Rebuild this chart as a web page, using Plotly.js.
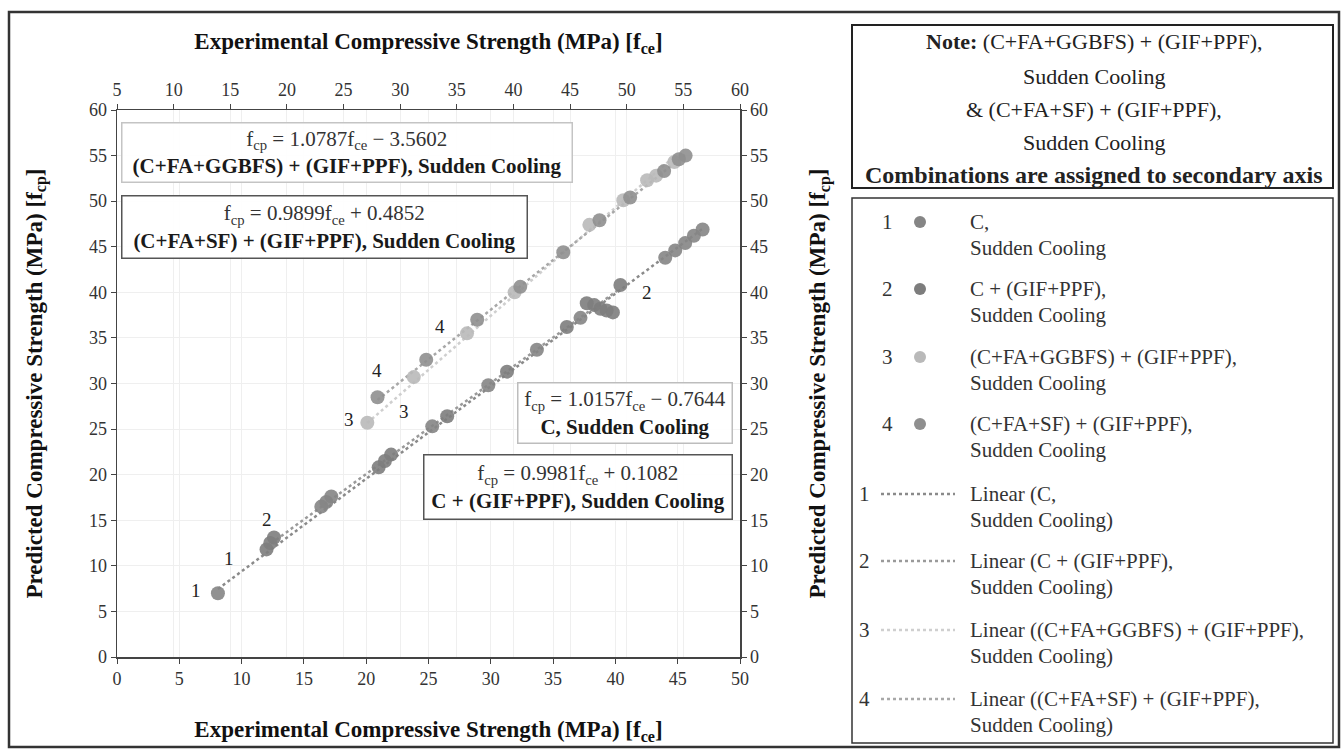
<!DOCTYPE html>
<html>
<head>
<meta charset="utf-8">
<script src="https://cdn.plot.ly/plotly-3.0.1.min.js"></script>
<style>
html,body{margin:0;padding:0;background:#fff;}
#chart{width:1344px;height:752px;}
</style>
</head>
<body>
<div id="chart"></div>
<script>
// ---------- DATA ----------
// Series 1: C, Sudden Cooling (primary axes)
const s1x = [8.1, 16.4, 16.8, 17.2, 25.3, 29.8, 33.7, 37.2, 44.0, 44.8, 45.6, 46.3, 47.0];
const s1y = [7.0, 16.5, 17.0, 17.6, 25.3, 29.8, 33.7, 37.2, 43.8, 44.6, 45.4, 46.2, 46.9];
// Series 2: C + (GIF+PPF), Sudden Cooling (primary axes)
const s2x = [12.0, 12.3, 12.6, 21.0, 21.5, 22.0, 26.5, 31.3, 36.1, 37.7, 38.3, 38.8, 39.3, 39.8, 40.4];
const s2y = [11.8, 12.5, 13.1, 20.8, 21.5, 22.2, 26.4, 31.3, 36.2, 38.8, 38.6, 38.2, 38.0, 37.8, 40.8];
// Series 3: (C+FA+GGBFS) + (GIF+PPF), Sudden Cooling (secondary axes)
const s3x = [27.1, 31.2, 35.9, 40.1, 46.7, 49.7, 51.8, 52.6, 54.2];
const s3y = [25.7, 30.7, 35.5, 40.0, 47.4, 50.1, 52.3, 52.8, 54.3];
// Series 4: (C+FA+SF) + (GIF+PPF), Sudden Cooling (secondary axes)
const s4x = [28.0, 32.3, 36.8, 40.6, 44.4, 47.6, 50.3, 53.3, 54.6, 55.2];
const s4y = [28.5, 32.6, 37.0, 40.6, 44.4, 47.9, 50.4, 53.3, 54.6, 55.0];

// Linear trendline coefficients printed on the chart
const trendSlope     = [1.0157, 0.9981, 1.0787, 0.9899];
const trendIntercept = [-0.7644, 0.1082, -3.5602, 0.4852];
const trendLabels    = ["C, Sudden Cooling", "C + (GIF+PPF), Sudden Cooling",
                        "(C+FA+GGBFS) + (GIF+PPF), Sudden Cooling", "(C+FA+SF) + (GIF+PPF), Sudden Cooling"];

const legendNames = [
  ["C,", "Sudden Cooling"],
  ["C + (GIF+PPF),", "Sudden Cooling"],
  ["(C+FA+GGBFS) + (GIF+PPF),", "Sudden Cooling"],
  ["(C+FA+SF) + (GIF+PPF),", "Sudden Cooling"],
  ["Linear (C,", "Sudden Cooling)"],
  ["Linear (C + (GIF+PPF),", "Sudden Cooling)"],
  ["Linear ((C+FA+GGBFS) + (GIF+PPF),", "Sudden Cooling)"],
  ["Linear ((C+FA+SF) + (GIF+PPF),", "Sudden Cooling)"]
];
const noteLines = ["<b>Note:</b> (C+FA+GGBFS) + (GIF+PPF),", "Sudden Cooling",
                   "& (C+FA+SF) + (GIF+PPF),", "Sudden Cooling",
                   "<b>Combinations are assigned to secondary axis</b>"];

// Point labels (numbers) in primary axis coordinates
const numLabelText = ["1", "1", "2", "3", "4", "3", "4", "2"];
const numLabelX    = [6.3, 9.0, 12.0, 18.6, 20.9, 23.0, 25.9, 42.5];
const numLabelY    = [7.3, 10.8, 15.1, 26.1, 31.4, 26.9, 36.2, 40.0];

// ---------- STYLE ----------
const FONT = "Liberation Serif";
const markerColors = ["#858585", "#7d7d7d", "#b9b9b9", "#8f8f8f"];
const lineColors   = ["#8a8a8a", "#9a9a9a", "#cfcfcf", "#a8a8a8"];

// pixel -> paper helpers (plot area is 117..740 x 110..657)
const L = 117, R = 740, T = 110, B = 657;
const px = v => (v - L) / (R - L);
const py = v => (B - v) / (B - T);

const sx = [s1x, s2x, s3x, s4x];
const sy = [s1y, s2y, s3y, s4y];
const axes = [["x","y"],["x","y"],["x2","y2"],["x2","y2"]];

const traces = [];
for (let i = 0; i < 4; i++) {
  const x0 = Math.min(...sx[i]), x1 = Math.max(...sx[i]);
  traces.push({
    type: "scatter", mode: "lines",
    x: [x0, x1],
    y: [trendSlope[i]*x0 + trendIntercept[i], trendSlope[i]*x1 + trendIntercept[i]],
    xaxis: axes[i][0], yaxis: axes[i][1],
    line: {color: lineColors[i], width: 2.5, dash: "dot"},
    name: "Linear (" + trendLabels[i] + ")", showlegend: false, hoverinfo: "skip"
  });
}
for (let i = 0; i < 4; i++) {
  traces.push({
    type: "scatter", mode: "markers",
    x: sx[i], y: sy[i],
    xaxis: axes[i][0], yaxis: axes[i][1],
    marker: {color: markerColors[i], size: 14, opacity: 0.9, line: {width: 0}},
    name: trendLabels[i], showlegend: false
  });
}

const tickFont = {family: FONT, size: 18, color: "#333"};
const titleFont = {family: FONT, size: 23, color: "#111"};
const grid = "#efefef";

const annotations = [];
const shapes = [];

function eqBox(x0, x1, y0, y1, text, border) {
  annotations.push({
    xref: "paper", yref: "paper",
    x: px((x0 + x1) / 2), y: py((y0 + y1) / 2),
    xanchor: "center", yanchor: "middle",
    text: text, showarrow: false, align: "center", valign: "middle",
    width: (x1 - x0) - 8, height: (y1 - y0) - 8, borderpad: 3,
    bordercolor: border, borderwidth: 1.5, bgcolor: "rgba(255,255,255,0.92)",
    font: {family: FONT, size: 21, color: "#333"}
  });
}
function eqText(i) {
  const b = trendIntercept[i];
  const sign = b < 0 ? " \u2212 " : " + ";
  return "f<sub>cp</sub> = " + trendSlope[i].toFixed(4) + "f<sub>ce</sub>" + sign + Math.abs(b).toFixed(4) +
         "<br><b><span style='color:#1a1a1a'>" + trendLabels[i] + "</span></b>";
}
eqBox(121, 572, 122, 182, eqText(2), "#c4c4c4");
eqBox(121, 527, 195, 258, eqText(3), "#555555");
eqBox(517, 732, 382, 443, eqText(0), "#bdbdbd");
eqBox(423, 732, 455, 520, eqText(1), "#555555");

for (let i = 0; i < numLabelText.length; i++) {
  annotations.push({
    xref: "x", yref: "y", x: numLabelX[i], y: numLabelY[i],
    text: numLabelText[i], showarrow: false,
    font: {family: FONT, size: 19, color: "#222"}
  });
}

shapes.push({type: "rect", xref: "paper", yref: "paper",
  x0: px(852), x1: px(1333), y0: py(25), y1: py(188),
  line: {color: "#222", width: 2}, fillcolor: "rgba(0,0,0,0)"});
const noteY = [42, 76, 109, 142, 175];
noteLines.forEach((t, i) => annotations.push({
  xref: "paper", yref: "paper", x: px(1094), y: py(noteY[i]),
  xanchor: "center", yanchor: "middle", text: t, showarrow: false,
  font: {family: FONT, size: (i === 4 ? 24 : 22), color: "#222"}
}));

shapes.push({type: "rect", xref: "paper", yref: "paper",
  x0: px(852), x1: px(1333), y0: py(198), y1: py(743),
  line: {color: "#333", width: 1.5}, fillcolor: "rgba(0,0,0,0)"});
const rowY = [222, 289, 357, 424, 494, 561, 630, 699];
const legFont = {family: FONT, size: 21, color: "#333"};
for (let i = 0; i < 8; i++) {
  const y = rowY[i];
  const isLine = i >= 4;
  const k = i % 4;
  annotations.push({xref: "paper", yref: "paper", x: px(isLine ? 864 : 887), y: py(y),
    xanchor: "center", yanchor: "middle", text: String(k + 1), showarrow: false, font: legFont});
  if (!isLine) {
    shapes.push({type: "circle", xref: "paper", yref: "paper",
      x0: px(914), x1: px(926), y0: py(y - 6), y1: py(y + 6),
      fillcolor: markerColors[k], line: {width: 0}});
  } else {
    shapes.push({type: "line", xref: "paper", yref: "paper",
      x0: px(881), x1: px(955), y0: py(y), y1: py(y),
      line: {color: lineColors[k], width: 2.5, dash: "dot"}});
  }
  annotations.push({xref: "paper", yref: "paper", x: px(968), y: py(y),
    xanchor: "left", yanchor: "middle", text: legendNames[i][0], showarrow: false, font: legFont});
  annotations.push({xref: "paper", yref: "paper", x: px(968), y: py(y + 26),
    xanchor: "left", yanchor: "middle", text: legendNames[i][1], showarrow: false, font: legFont});
}

shapes.push({type: "rect", xref: "paper", yref: "paper",
  x0: px(9), x1: px(1339), y0: py(12), y1: py(747),
  line: {color: "#333", width: 2.5}, fillcolor: "rgba(0,0,0,0)"});

const axisCommon = {
  showline: true, linecolor: "#444", linewidth: 1.5,
  ticks: "outside", ticklen: 5, tickcolor: "#444", tickwidth: 1,
  tickfont: tickFont, showgrid: true, gridcolor: grid, zeroline: false,
  dtick: 5, tick0: 0, automargin: false, fixedrange: true
};

const layout = {
  width: 1344, height: 752,
  margin: {l: 117, r: 604, t: 110, b: 95, pad: 0},
  paper_bgcolor: "#ffffff", plot_bgcolor: "#ffffff",
  showlegend: false,
  font: {family: FONT, color: "#333"},
  xaxis: Object.assign({}, axisCommon, {
    range: [0, 50], side: "bottom", anchor: "y",
    title: {text: "<b>Experimental Compressive Strength (MPa) [f<sub>ce</sub>]</b>", font: titleFont, standoff: 33}
  }),
  xaxis2: Object.assign({}, axisCommon, {
    range: [5, 60], side: "top", overlaying: "x", anchor: "y",
    title: {text: "<b>Experimental Compressive Strength (MPa) [f<sub>ce</sub>]</b>", font: titleFont, standoff: 24}
  }),
  yaxis: Object.assign({}, axisCommon, {
    range: [0, 60], side: "left", anchor: "x",
    title: {text: "<b>Predicted Compressive Strength (MPa) [f<sub>cp</sub>]</b>", font: titleFont, standoff: 40}
  }),
  yaxis2: Object.assign({}, axisCommon, {
    range: [0, 60], side: "right", overlaying: "y", anchor: "x",
    title: {text: "<b>Predicted Compressive Strength (MPa) [f<sub>cp</sub>]</b>", font: titleFont, standoff: 42}
  }),
  annotations: annotations,
  shapes: shapes
};

Plotly.newPlot("chart", traces, layout, {displayModeBar: false, staticPlot: true});
</script>
</body>
</html>
